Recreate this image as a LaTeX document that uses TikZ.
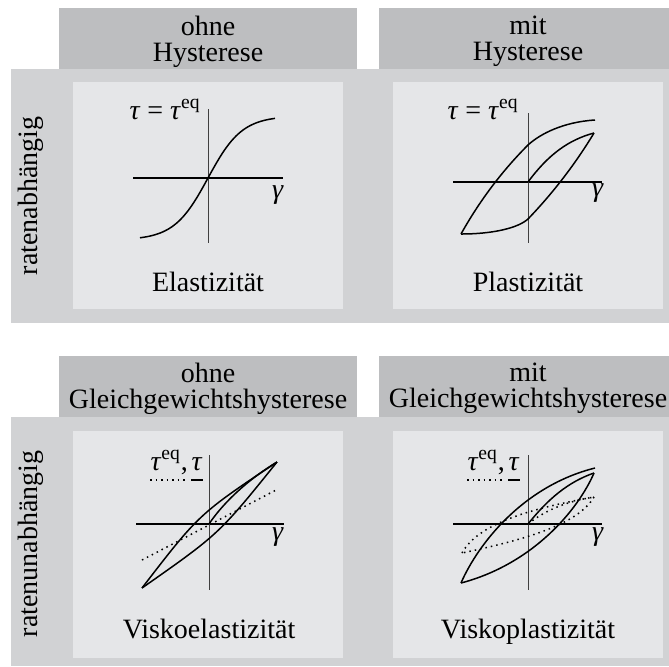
\documentclass[tikz,border=0pt]{standalone}
\usepackage{fontspec}
\setmainfont{Liberation Serif}
\usetikzlibrary{positioning,calc}
\definecolor{hdrgray}{RGB}{189,190,192}
\definecolor{bandgray}{RGB}{209,210,212}
\definecolor{panelgray}{RGB}{229,230,232}
\newcommand{\tauit}{\textit{τ}}
\newcommand{\gammait}{\textit{γ}}

\begin{document}
\begin{tikzpicture}[x=0.5pt,y=-0.5pt,font=\fontsize{14}{13}\selectfont,
   hdr/.style={fill=hdrgray,minimum width=149pt,minimum height=30.5pt,inner sep=0pt},
   htxt/.style={align=center,inner sep=0pt},
   panel/.style={fill=panelgray,minimum width=135pt,minimum height=113.5pt,inner sep=0pt},
   lbl/.style={inner sep=0pt},
   haxis/.style={line width=0.9pt},
   vaxis/.style={line width=0.5pt,black!75},
   curve/.style={line width=0.75pt},
   eqline/.style={line width=0.75pt,dotted}]
  \useasboundingbox (0,0) rectangle (669,666);

  % row 1: ratenabhaengig
  \fill[bandgray] (11,69) rectangle (669,323);
  \node[hdr] (h11) at (208,38.5) {};
  \node[hdr] (h12) at (528,38.5) {};
  \node[htxt] at ([yshift=-1.5pt]h11.center) {ohne\\Hysterese};
  \node[htxt] at ([yshift=-1.5pt]h12.center) {mit\\Hysterese};
  \node[rotate=90] (r1) at (31,196) {ratenabhängig};
  \node[panel] (p11) at (208,195.5) {};
  \node[panel] (p12) at (528,195.5) {};

  % Elastizitaet
  \coordinate (o11) at (208,178);
  \draw[haxis] (133,178) -- (283,178);
  \draw[vaxis] (208,109) -- (208,243);
  \node[lbl,anchor=base east] (l11) at (201,119) {\tauit{} = \tauit\textsuperscript{eq}};
  \node (g11) at (278,195) {\gammait};
  \node[anchor=base] (n11) at (208,291) {Elastizität};
  \begin{scope}[shift={(o11)},yscale=-1]
    \draw[curve] plot[domain=-68:67,samples=60,smooth] (\x,{62*tanh(\x/34)});
  \end{scope}

  % Plastizitaet
  \coordinate (o12) at (528,182);
  \draw[haxis] (453,182) -- (602,182);
  \draw[vaxis] (528,113) -- (528,243);
  \node[lbl,anchor=base east] (l12) at (519,119) {\tauit{} = \tauit\textsuperscript{eq}};
  \node (g12) at (598,193) {\gammait};
  \node[anchor=base] (n12) at (528,291) {Plastizität};
  \begin{scope}[shift={(o12)},yscale=-1]
    \draw[curve] (-67,-52) .. controls (-48.7,-19.3) and (-26.3,10.7) .. (0,37)
                 .. controls (12,48) and (35,60) .. (67,62);
    \draw[curve] (66,49) .. controls (47.2,17.9) and (25.2,-10.7) .. (0,-37)
                 .. controls (-10,-46) and (-35,-52) .. (-67,-52);
    \draw[curve] (0,0) .. controls (20,27) and (40,42) .. (66,49);
  \end{scope}

  % row 2: ratenunabhaengig
  \fill[bandgray] (11,417) rectangle (669,666);
  \node[hdr] (h21) at (208,386.5) {};
  \node[hdr] (h22) at (528,386.5) {};
  \node[htxt] at ([yshift=-1pt]h21.center) {ohne\\Gleichgewichtshysterese};
  \node[htxt] at ([yshift=-1pt]h22.center) {mit\\Gleichgewichtshysterese};
  \node[rotate=90] (r2) at (31,544) {ratenunabhängig};
  \node[panel] (p21) at (208,544.5) {};
  \node[panel] (p22) at (528,544.5) {};

  % Viskoelastizitaet
  \coordinate (o21) at (209,524);
  \draw[haxis] (136,524) -- (284,524);
  \draw[vaxis] (209,455) -- (209,590);
  \node[lbl,anchor=base east] (t21) at (203,470) {\tauit};
  \node[lbl,anchor=base east] (e21) at ([xshift=-1.5pt]t21.base west) {\tauit\textsuperscript{eq},};
  \draw[eqline] ([shift={(0,10)}]e21.base west) -- ([shift={(0,10)}]e21.base east);
  \draw[curve] ([shift={(0,10)}]t21.base west) -- ([shift={(0,10)}]t21.base east);
  \node (g21) at (278,537) {\gammait};
  \node[anchor=base] (n21) at (209,638) {Viskoelastizität};
  \begin{scope}[shift={(o21)},yscale=-1]
    \draw[curve] (-67,-64) .. controls (-10,10) .. (68,62);
    \draw[curve] (-67,-64) .. controls (10,-10) .. (68,62);
    \draw[curve] (0,0) .. controls (12,18) and (35,42) .. (68,62);
    \draw[eqline] (-67,-36) -- (69,35);
  \end{scope}

  % Viskoplastizitaet
  \coordinate (o22) at (528,524);
  \draw[haxis] (453,524) -- (602,524);
  \draw[vaxis] (528,455) -- (528,590);
  \node[lbl,anchor=base east] (t22) at (520,470) {\tauit};
  \node[lbl,anchor=base east] (e22) at ([xshift=-1.5pt]t22.base west) {\tauit\textsuperscript{eq},};
  \draw[eqline] ([shift={(0,10)}]e22.base west) -- ([shift={(0,10)}]e22.base east);
  \draw[curve] ([shift={(0,10)}]t22.base west) -- ([shift={(0,10)}]t22.base east);
  \node (g22) at (598,537) {\gammait};
  \node[anchor=base] (n22) at (528,638) {Viskoplastizität};
  \begin{scope}[shift={(o22)},yscale=-1]
    \draw[curve] (-67,-59) .. controls (-50,-20) and (-5,38) .. (67,56);
    \draw[curve] (66,51) .. controls (50,14) and (5,-40) .. (-67,-59);
    \draw[curve] (0,0) .. controls (20,25) and (40,42) .. (66,51);
    \draw[eqline] (-66,-29) .. controls (-50,0) and (0,15) .. (66,27);
    \draw[eqline] (66,27) .. controls (50,0) and (0,-15) .. (-66,-29);
    \draw[eqline] (0,0) .. controls (15,12) and (35,22) .. (66,27);
  \end{scope}
\end{tikzpicture}
\end{document}
